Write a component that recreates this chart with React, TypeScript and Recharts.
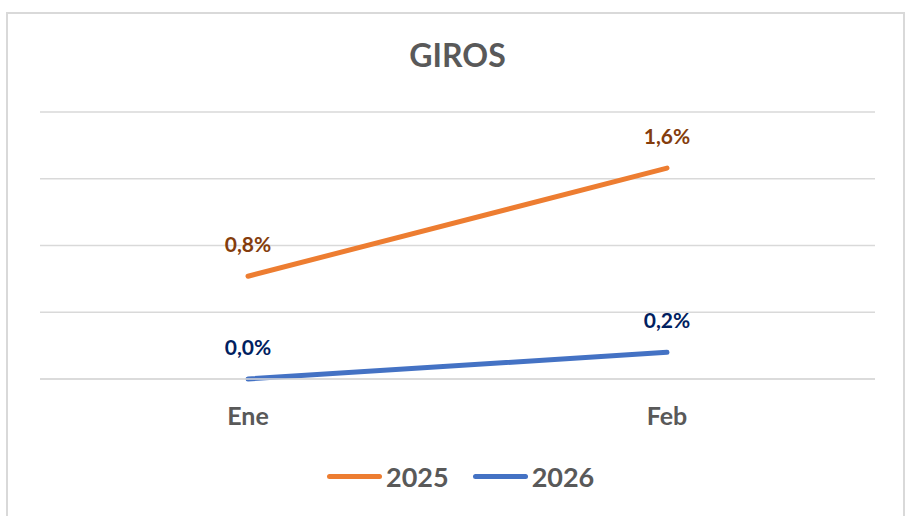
import React from 'react';
import { LineChart, Line, XAxis, YAxis, CartesianGrid, LabelList } from 'recharts';

const months = ['Ene', 'Feb'];
const values2025 = [0.77, 1.58];
const values2026 = [0.0, 0.2];
const yTicks = [0, 0.5, 1, 1.5, 2];

const FONT = 'Lato, "Open Sans", sans-serif';
const GREY = '#595959';

const data = months.map((m, i) => ({ month: m, y2025: values2025[i], y2026: values2026[i] }));

const fmt = (v: number) => v.toFixed(1).replace('.', ',') + '%';

function makeLabel(color: string) {
  return (props: any) => {
    const { x, y, value } = props;
    return (
      <text
        x={x}
        y={y - 33}
        textAnchor="middle"
        dominantBaseline="central"
        fill={color}
        fontFamily={FONT}
        fontWeight={700}
        fontSize={21}
      >
        {fmt(value)}
      </text>
    );
  };
}

function ChartLegend() {
  const item = (label: string, color: string) => (
    <div style={{ display: 'flex', alignItems: 'center', marginRight: 24 }}>
      <div style={{ width: 55, height: 5, borderRadius: 3, background: color, marginRight: 4 }} />
      <span style={{ fontSize: 27, fontWeight: 700, color: GREY, fontFamily: FONT }}>{label}</span>
    </div>
  );
  return (
    <div
      style={{
        position: 'absolute',
        left: 327,
        top: 460,
        display: 'flex',
        alignItems: 'center',
      }}
    >
      {item('2025', '#ed7d31')}
      {item('2026', '#4472c4')}
    </div>
  );
}

export default function App() {
  return (
    <div style={{ position: 'absolute', left: 0, top: 0, width: 905, height: 516, background: '#fff', overflow: 'hidden' }}>
      <div
        style={{
          position: 'absolute',
          left: 6,
          top: 12,
          width: 899,
          height: 520,
          border: '2px solid #d9d9d9',
          boxSizing: 'border-box',
        }}
      />
      <div
        style={{
          position: 'absolute',
          left: 0,
          width: 905,
          top: 35,
          textAlign: 'center',
          fontFamily: FONT,
          fontWeight: 700,
          fontSize: 32,
          color: GREY,
          paddingLeft: 10,
          boxSizing: 'border-box',
        }}
      >
        GIROS
      </div>
      <div style={{ position: 'absolute', left: 0, top: 0 }}>
        <LineChart width={905} height={516} data={data} margin={{ top: 112, right: 30, bottom: 77, left: 40 }}>
          <CartesianGrid horizontal vertical={false} stroke="#d9d9d9" strokeWidth={1.5} />
          <YAxis hide domain={[0, 2]} ticks={yTicks} />
          <XAxis
            dataKey="month"
            axisLine={{ stroke: '#d9d9d9', strokeWidth: 1.5 }}
            tickLine={false}
            height={60}
            tickMargin={22}
            padding={{ left: 208, right: 208 }}
            tick={{ fill: GREY, fontSize: 25, fontWeight: 700, fontFamily: FONT }}
          />
          <Line
            dataKey="y2025"
            stroke="#ed7d31"
            strokeWidth={5}
            strokeLinecap="round"
            dot={false}
            isAnimationActive={false}
          >
            <LabelList dataKey="y2025" content={makeLabel('#843c0c')} />
          </Line>
          <Line
            dataKey="y2026"
            stroke="#4472c4"
            strokeWidth={5}
            strokeLinecap="round"
            dot={false}
            isAnimationActive={false}
          >
            <LabelList dataKey="y2026" content={makeLabel('#002060')} />
          </Line>
        </LineChart>
      </div>
      <ChartLegend />
    </div>
  );
}
